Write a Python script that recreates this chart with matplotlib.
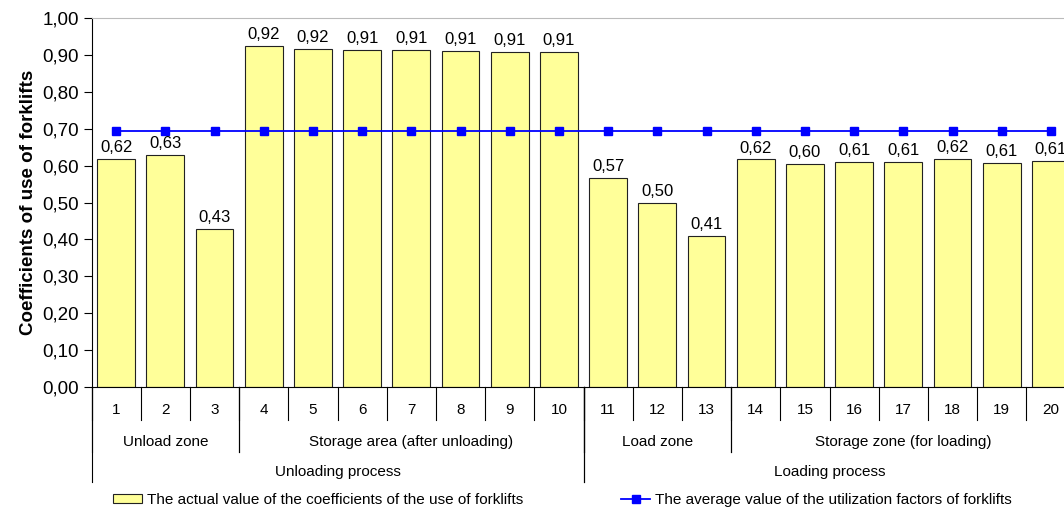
import matplotlib
matplotlib.use("Agg")
import matplotlib.pyplot as plt
from matplotlib.ticker import FuncFormatter

plt.rcParams['font.family'] = ['Liberation Sans', 'DejaVu Sans']

# ---- data ----
positions = list(range(1, 21))
coef_values = [0.618, 0.629, 0.428, 0.924, 0.917, 0.913, 0.914, 0.911, 0.909, 0.909,
               0.566, 0.499, 0.409, 0.617, 0.604, 0.611, 0.611, 0.618, 0.607, 0.613]
average_value = 0.695
avg_values = [average_value] * len(positions)

zones = ["Unload zone", "Storage area (after unloading)", "Load zone", "Storage zone (for loading)"]
zone_bounds = [(1, 3), (4, 10), (11, 13), (14, 20)]
processes = ["Unloading process", "Loading process"]
process_bounds = [(1, 10), (11, 20)]

W, H = 1064, 509
fig = plt.figure(figsize=(W / 100, H / 100), dpi=100)
# plot area runs a little past the right edge of the picture (cropped like the original)
ax = fig.add_axes([91.5 / W, 122 / H, 984 / W, 369 / H])

bars = ax.bar(positions, coef_values, width=0.77, color="#FFFF99", edgecolor="#222222",
              linewidth=0.8, zorder=2,
              label="The actual value of the coefficients of the use of forklifts")
avg_line, = ax.plot(positions, avg_values, color="#0000FF", marker="s", markersize=6,
                    linewidth=1.3, zorder=3,
                    label="The average value of the utilization factors of forklifts")

for x, v in zip(positions, coef_values):
    ax.text(x, v + 0.01, f"{v:.2f}".replace(".", ","), ha="center", va="bottom",
            fontsize=12, zorder=4)

ax.set_xlim(0.5, 20.5)
ax.set_ylim(0, 1.0)
ax.set_yticks([i / 10 for i in range(11)])
ax.yaxis.set_major_formatter(FuncFormatter(lambda v, p: f"{v:.2f}".replace(".", ",")))
ax.tick_params(axis="y", labelsize=13.5, length=6, pad=3, direction="out")
ax.set_xticks([])
ax.set_ylabel("Coefficients of use of forklifts", fontsize=13.5, fontweight="bold", labelpad=4)

ax.spines["right"].set_visible(False)
ax.spines["top"].set_color("#BBBBBB")

# ---- multi-level category axis ----
trans = ax.get_xaxis_transform()
for i in range(21):
    ax.plot([i + 0.5, i + 0.5], [0, -0.089], color="black", linewidth=0.8,
            transform=trans, clip_on=False)
for lo, hi in zone_bounds:
    for b in (lo - 0.5, hi + 0.5):
        ax.plot([b, b], [0, -0.176], color="black", linewidth=0.8,
                transform=trans, clip_on=False)
for lo, hi in process_bounds:
    for b in (lo - 0.5, hi + 0.5):
        ax.plot([b, b], [0, -0.257], color="black", linewidth=0.8,
                transform=trans, clip_on=False)

for x in positions:
    ax.text(x, -0.062, str(x), ha="center", va="center", fontsize=11, transform=trans)
for name, (lo, hi) in zip(zones, zone_bounds):
    ax.text((lo + hi) / 2, -0.149, name, ha="center", va="center", fontsize=11, transform=trans)
for name, (lo, hi) in zip(processes, process_bounds):
    ax.text((lo + hi) / 2, -0.230, name, ha="center", va="center", fontsize=11, transform=trans)

# two legend entries placed separately, like the original
leg_kw = dict(frameon=False, fontsize=11, handlelength=1.9, handleheight=0.6,
              handletextpad=0.3, borderpad=0, borderaxespad=0)
fig.legend([bars], [bars.get_label()], loc="center left",
           bbox_to_anchor=(113 / W, 1 - 500 / H), **leg_kw)
fig.legend([avg_line], [avg_line.get_label()], loc="center left",
           bbox_to_anchor=(621 / W, 1 - 500 / H), **leg_kw)

fig.savefig("out.png", dpi=100)
